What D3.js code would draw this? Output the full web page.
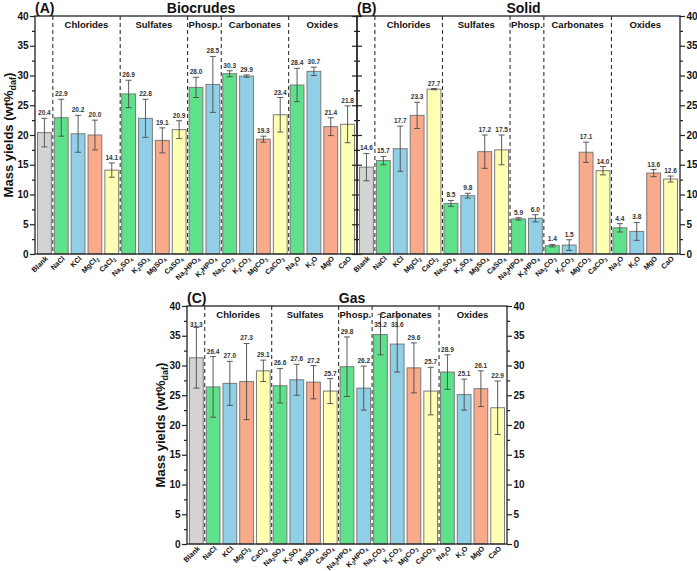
<!DOCTYPE html>
<html>
<head>
<meta charset="utf-8">
<script src="https://cdn.jsdelivr.net/npm/d3@7"></script>
<style>
  body { margin: 0; background: #fff; }
  svg text { font-family: "Liberation Sans", Arial, sans-serif; font-weight: bold; }
</style>
</head>
<body>
<div id="container"></div>
<script>
const width = 697;
const height = 571;

const categories = ["Blank", "NaCl", "KCl", "MgCl2", "CaCl2", "Na2SO4", "K2SO4", "MgSO4", "CaSO4",
  "Na2HPO4", "K2HPO4", "Na2CO3", "K2CO3", "MgCO3", "CaCO3", "Na2O", "K2O", "MgO", "CaO"];
const groupNames = ["Chlorides", "Sulfates", "Phosp.", "Carbonates", "Oxides"];
const groupFirst = ["NaCl", "Na2SO4", "Na2HPO4", "Na2CO3", "Na2O"];
const groupLast = ["CaCl2", "CaSO4", "K2HPO4", "CaCO3", "CaO"];
const yTicks = [0, 5, 10, 15, 20, 25, 30, 35, 40];
const yMinorTicks = [2.5, 7.5, 12.5, 17.5, 22.5, 27.5, 32.5, 37.5];

const biocrudeValues = [20.4, 22.9, 20.2, 20.0, 14.1, 26.9, 22.8, 19.1, 20.9, 28.0, 28.5, 30.3, 29.9, 19.3, 23.4, 28.4, 30.7, 21.4, 21.8];
const biocrudeErrors = [2.4, 3.1, 3.1, 2.5, 1.2, 2.3, 3.2, 2.1, 1.5, 1.7, 4.7, 0.5, 0.2, 0.5, 2.9, 2.8, 0.7, 1.5, 3.1];
const solidValues = [14.6, 15.7, 17.7, 23.3, 27.7, 8.5, 9.8, 17.2, 17.5, 5.9, 6.0, 1.4, 1.5, 17.1, 14.0, 4.4, 3.8, 13.6, 12.6];
const solidErrors = [2.3, 0.7, 3.8, 2.2, 0.1, 0.5, 0.4, 2.8, 2.5, 0.2, 0.6, 0.2, 0.9, 1.7, 0.7, 0.7, 1.5, 0.6, 0.5];
const gasValues = [31.3, 26.4, 27.0, 27.3, 29.1, 26.6, 27.6, 27.2, 25.7, 29.8, 26.2, 35.2, 33.6, 29.6, 25.7, 28.9, 25.1, 26.1, 22.9];
const gasErrors = [5.1, 5.1, 3.7, 6.4, 1.8, 2.9, 2.6, 2.8, 2.1, 5.0, 3.7, 3.4, 4.7, 4.2, 4.0, 2.9, 2.6, 3.0, 4.5];

const colorMap = { Blank: "#d3d3d3", Na: "#5fe08a", K: "#90cfe6", Mg: "#f8aa8b", Ca: "#ffffb3" };
function barColor(name) {
  let m = name.match(/^(Na|K|Mg|Ca)/);
  return m ? colorMap[m[1]] : colorMap.Blank;
}

const svg = d3.select("#container").append("svg").attr("width", width).attr("height", height);

// write formula with subscript digits
function formula(sel, name, size) {
  name.split(/(\d+)/).forEach(part => {
    if (part === "") return;
    if (/^\d+$/.test(part)) {
      sel.append("tspan").attr("font-size", size * 0.7).attr("dy", size * 0.25).text(part);
      sel.append("tspan").attr("font-size", size).attr("dy", -size * 0.25).text("\u200b");
    } else {
      sel.append("tspan").attr("font-size", size).text(part);
    }
  });
}

function drawPanel(p) {
  const g = svg.append("g");
  const xScale = d3.scaleBand().domain(categories).range([p.x0 + 2.5, p.x1 - 2.5]).paddingInner(0.18).paddingOuter(0);
  const yScale = d3.scaleLinear().domain([0, 40]).range([p.y1, p.y0]);
  const gap = (xScale.step() - xScale.bandwidth()) / 2;
  const data = categories.map((c, i) => ({ name: c, v: p.values[i], e: p.errors[i] }));

  // group separators
  const bounds = groupFirst.map((n, i) => ({
    left: xScale(n) - gap,
    right: xScale(groupLast[i]) + xScale.bandwidth() + gap,
    name: groupNames[i]
  }));
  g.selectAll(".sep").data(bounds).enter().append("line")
    .attr("x1", d => d.left).attr("x2", d => d.left)
    .attr("y1", p.y0).attr("y2", p.y1)
    .attr("stroke", "#333").attr("stroke-width", 1.1).attr("stroke-dasharray", "4,3");
  g.selectAll(".grp").data(bounds).enter().append("text")
    .attr("x", d => (d.left + d.right) / 2).attr("y", p.y0 + 12)
    .attr("text-anchor", "middle").attr("font-size", 9.5).attr("fill", "#111")
    .text(d => d.name);

  // bars
  g.selectAll(".bar").data(data).enter().append("rect")
    .attr("x", d => xScale(d.name)).attr("width", xScale.bandwidth())
    .attr("y", d => yScale(d.v)).attr("height", d => yScale(0) - yScale(d.v))
    .attr("fill", d => barColor(d.name)).attr("stroke", "#7a7a7a").attr("stroke-width", 1);

  // error bars
  const eb = g.selectAll(".err").data(data).enter().append("g")
    .attr("transform", d => `translate(${xScale(d.name) + xScale.bandwidth() / 2},0)`)
    .attr("stroke", "#4a4a4a").attr("stroke-width", 0.9);
  eb.append("line").attr("y1", d => yScale(d.v + d.e)).attr("y2", d => yScale(d.v - d.e));
  eb.append("line").attr("x1", -3).attr("x2", 3).attr("y1", d => yScale(d.v + d.e)).attr("y2", d => yScale(d.v + d.e));
  eb.append("line").attr("x1", -3).attr("x2", 3).attr("y1", d => yScale(d.v - d.e)).attr("y2", d => yScale(d.v - d.e));

  g.selectAll(".val").data(data).enter().append("text")
    .attr("x", d => xScale(d.name) + xScale.bandwidth() / 2)
    .attr("y", d => Math.max(yScale(d.v + d.e) - 3, p.y0 + 21))
    .attr("text-anchor", "middle").attr("font-size", 6.5).attr("fill", "#333")
    .text(d => d.v.toFixed(1));

  // x labels
  g.selectAll(".xl").data(categories).enter().append("text")
    .attr("text-anchor", "end")
    .attr("transform", d => `translate(${xScale(d) + xScale.bandwidth() / 2 + 4},${p.y1 + 5}) rotate(-45)`)
    .attr("fill", "#111")
    .each(function(d) { formula(d3.select(this), d, 7.2); });

  // frame
  g.append("rect").attr("x", p.x0).attr("y", p.y0).attr("width", p.x1 - p.x0).attr("height", p.y1 - p.y0)
    .attr("fill", "none").attr("stroke", "#222").attr("stroke-width", 1.3);

  // y axes
  function axis(x, side, labels) {
    const gen = side === "left" ? d3.axisLeft(yScale) : d3.axisRight(yScale);
    const a = g.append("g").attr("transform", `translate(${x},0)`)
      .call(gen.tickValues(yTicks).tickSize(5).tickPadding(1.5).tickFormat(labels ? d3.format("d") : ""));
    const m = g.append("g").attr("transform", `translate(${x},0)`)
      .call((side === "left" ? d3.axisLeft(yScale) : d3.axisRight(yScale)).tickValues(yMinorTicks).tickSize(3).tickFormat(""));
    [a, m].forEach(s => {
      s.select(".domain").remove();
      s.selectAll("line").attr("stroke", "#222").attr("stroke-width", 1.2);
      s.selectAll("text").attr("font-size", 10).attr("fill", "#111")
        .attr("font-family", "'Liberation Sans', Arial, sans-serif").attr("font-weight", "bold");
    });
  }
  p.axes.forEach(a => axis(a[0] === "left" ? p.x0 : p.x1, a[1], a[2]));

  // titles
  g.append("text").attr("x", p.x0).attr("y", p.y0 - 3).attr("font-size", 14).attr("fill", "#111").text(p.letter);
  g.append("text").attr("x", (p.x0 + p.x1) / 2 + 5).attr("y", p.y0 - 3).attr("font-size", 14)
    .attr("text-anchor", "middle").attr("fill", "#111").text(p.title);

  if (p.yLabel) {
    const t = g.append("text").attr("text-anchor", "middle").attr("fill", "#111")
      .attr("transform", `translate(${p.x0 - 22},${(p.y0 + p.y1) / 2}) rotate(-90)`);
    t.append("tspan").attr("font-size", 13).text("Mass yields (wt%");
    t.append("tspan").attr("font-size", 9).attr("dy", 3).text("daf");
    t.append("tspan").attr("font-size", 13).attr("dy", -3).text(")");
  }
}

drawPanel({ x0: 35, x1: 357, y0: 16, y1: 254, values: biocrudeValues, errors: biocrudeErrors,
  letter: "(A)", title: "Biocrudes", yLabel: true,
  axes: [["left", "left", true], ["right", "right", false], ["right", "left", false]] });
drawPanel({ x0: 357, x1: 680, y0: 16, y1: 254, values: solidValues, errors: solidErrors,
  letter: "(B)", title: "Solid", yLabel: false,
  axes: [["right", "right", true]] });
drawPanel({ x0: 187, x1: 507, y0: 306, y1: 544, values: gasValues, errors: gasErrors,
  letter: "(C)", title: "Gas", yLabel: true,
  axes: [["left", "left", true], ["right", "right", true]] });
</script>
</body>
</html>
